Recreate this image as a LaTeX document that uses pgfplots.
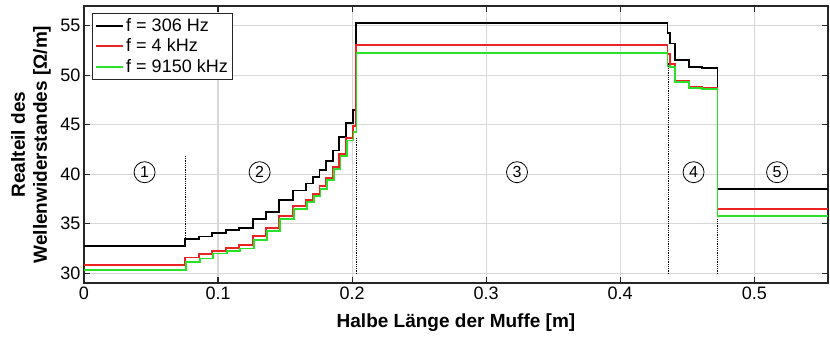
\documentclass[border=0pt]{standalone}
\usepackage{pgfplots}
\pgfplotsset{compat=1.18}
\usepackage{fontspec}
\setmainfont{Liberation Sans}
\definecolor{mred}{RGB}{235,35,35}
\definecolor{mgreen}{RGB}{40,225,40}
\definecolor{gridgray}{RGB}{215,215,215}
\definecolor{axgray}{RGB}{38,38,38}

\begin{document}
\begin{tikzpicture}[x=1pt,y=1pt]
\useasboundingbox (-84,-57) rectangle (746,283);
\begin{axis}[
  at={(0,0)}, anchor=south west,
  scale only axis, width=744pt, height=277pt,
  xmin=0, xmax=0.555, ymin=29, ymax=57,
  xtick={0,0.1,0.2,0.3,0.4,0.5},
  ytick={30,35,40,45,50,55},
  /pgf/number format/assume math mode=true,
  tick label style={font=\fontsize{18}{20}\selectfont},
  grid=major,
  major grid style={gridgray, line width=1.2pt},
  axis line style={axgray, line width=1.3pt},
  tick style={axgray, line width=1.2pt},
  major tick length=6pt,
  tick align=inside,
  xtick pos=both, ytick pos=both,
  xlabel={Halbe Länge der Muffe [m]},
  ylabel={Realteil des\\Wellenwiderstandes [Ω/m]},
  xlabel style={font=\bfseries\fontsize{19}{22}\selectfont, at={(axis description cs:0.5,-0.144)}, anchor=center},
  ylabel style={font=\bfseries\fontsize{19}{22}\selectfont, align=center, at={(axis description cs:-0.0712,0.5)}, anchor=center},
  legend style={at={(0.0108,0.9747)}, anchor=north west, draw=axgray, line width=0.8pt,
    fill=white, font=\fontsize{18}{20}\selectfont, inner sep=3pt, row sep=2pt},
  legend cell align=left,
  legend image code/.code={\draw[#1] (0pt,0pt) -- (27pt,0pt);},
]
% f = 306 Hz
\addplot[black, line width=1.8pt, const plot mark left] coordinates {
(0,32.72) (0.0752,33.45) (0.0855,33.7) (0.0957,34.05) (0.1057,34.33)
(0.1157,34.6) (0.1258,35.45) (0.1360,36.2) (0.1457,37.35) (0.1557,38.35)
(0.1657,39.05) (0.1707,39.7) (0.1756,40.45) (0.1806,41.3) (0.1856,42.4)
(0.1905,43.75) (0.1955,45.2) (0.2005,46.5) (0.2028,55.25) (0.4353,54.26)
(0.4373,53.2) (0.4408,51.57) (0.4513,50.87) (0.4610,50.7) (0.4726,38.53)
(0.555,38.53)
};
\addlegendentry{f = 306 Hz}
% f = 4 kHz
\addplot[mred, line width=1.8pt, const plot mark left] coordinates {
(0,30.78) (0.0752,31.58) (0.0855,31.93) (0.0957,32.25) (0.1057,32.55)
(0.1157,32.82) (0.1258,33.73) (0.1360,34.6) (0.1457,35.75) (0.1557,36.75)
(0.1657,37.43) (0.1707,38.0) (0.1756,38.77) (0.1806,39.65) (0.1856,40.72)
(0.1905,42.06) (0.1955,43.68) (0.2005,44.9) (0.2028,53.05) (0.4353,52.14)
(0.4373,51.1) (0.4408,49.45) (0.4513,48.85) (0.4610,48.72) (0.4726,36.45)
(0.555,36.45)
};
\addlegendentry{f = 4 kHz}
% f = 9150 kHz
\addplot[mgreen, line width=1.8pt, const plot mark left] coordinates {
(0,30.3) (0.0760,31.14) (0.0863,31.48) (0.0965,31.98) (0.1065,32.25)
(0.1165,32.49) (0.1266,33.33) (0.1368,34.26) (0.1465,35.5) (0.1565,36.5)
(0.1665,37.19) (0.1715,37.76) (0.1764,38.54) (0.1814,39.45) (0.1864,40.55)
(0.1913,41.8) (0.1963,43.4) (0.2010,44.3) (0.2032,52.25) (0.4353,50.97)
(0.4373,50.8) (0.4408,49.35) (0.4513,48.68) (0.4610,48.65) (0.4726,35.75)
(0.555,35.75)
};
\addlegendentry{f = 9150 kHz}
% section borders
\addplot[black, line width=0.8pt, densely dotted, forget plot] coordinates {(0.0754,33.2) (0.0754,41.9)};
\addplot[black, line width=0.8pt, densely dotted, forget plot] coordinates {(0.2030,29.9) (0.2030,43.7)};
\addplot[black, line width=0.8pt, densely dotted, forget plot] coordinates {(0.4358,29.9) (0.4358,51.2)};
\addplot[black, line width=0.8pt, densely dotted, forget plot] coordinates {(0.4726,29.9) (0.4726,35.5)};
% section numbers
\tikzset{sec/.style={draw=black, circle, minimum size=21pt, inner sep=0pt, line width=0.8pt, font=\fontsize{16}{16}\selectfont}}
\node[sec] at (axis cs:0.0452,40.2) {1};
\node[sec] at (axis cs:0.131,40.2) {2};
\node[sec] at (axis cs:0.323,40.2) {3};
\node[sec] at (axis cs:0.4547,40.2) {4};
\node[sec] at (axis cs:0.517,40.2) {5};
\end{axis}
\end{tikzpicture}
\end{document}
